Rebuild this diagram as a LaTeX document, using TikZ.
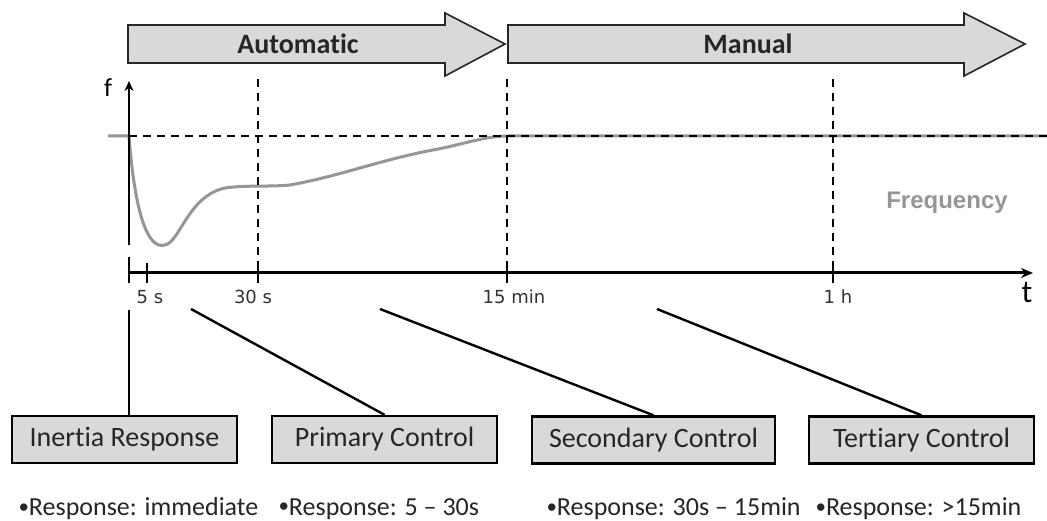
\documentclass[tikz,border=0pt]{standalone}
\usepackage{fontspec}
\setmainfont{Carlito}[Ligatures={TeX,NoCommon}]
\newfontfamily\axisfont{DejaVu Sans}
\newfontfamily\freqfont{Liberation Sans}
\usetikzlibrary{arrows.meta}
\definecolor{boxgray}{RGB}{217,217,217}
\definecolor{curvegray}{RGB}{150,150,150}
\definecolor{labelgray}{RGB}{50,50,50}
\newcommand{\smallbullet}{\raisebox{0.2ex}{\fontsize{21}{21}\selectfont\textbullet}}
\tikzset{
  ctrlbox/.style={draw, line width=2.4pt, fill=boxgray, minimum width=225pt,
    minimum height=47pt, inner sep=0pt, text=black!85,
    font=\fontsize{28}{30}\selectfont},
  phasearrow/.style={draw=black!85, line width=1.6pt, fill=boxgray},
  guide/.style={dash pattern=on 8pt off 6pt, line width=2pt},
  ticklabel/.style={text=labelgray, font=\axisfont\fontsize{18}{20}\selectfont},
  bullettext/.style={anchor=west, text=black!85, font=\fontsize{26}{30}\selectfont}
}
\begin{document}
\begin{tikzpicture}[x=1pt, y=-1pt]
        \useasboundingbox (0,0) rectangle (1047,521);
        \fill[white] (0,0) rectangle (1047,521);

        \draw[phasearrow] (128,25) -- (445,25) -- (445,13) -- (505,44) -- (445,76) -- (445,63) -- (128,63) -- cycle;
        \draw[phasearrow] (508,25) -- (964,25) -- (964,13) -- (1025,44) -- (964,76) -- (964,63) -- (508,63) -- cycle;
        \node[font=\bfseries\fontsize{28}{30}\selectfont, text=black!85] (auto) at (298,44) {Automatic};
        \node[font=\bfseries\fontsize{28}{30}\selectfont, text=black!85] (manual) at (748,44) {Manual};

        \draw[curvegray, line width=3pt, line join=round] (108,136) -- (129,136)
            .. controls (135,215) and (148,250) .. (165,245)
            .. controls (180,242) and (188,196) .. (225,188)
            .. controls (245,185) and (270,187) .. (290,185)
            .. controls (340,176) and (380,160) .. (433,150)
            .. controls (465,144) and (485,136) .. (508,136) -- (1047,136);
        \draw[guide] (129,136) -- (1047,136);
        \foreach \x in {258,507,833}
            \draw[guide] (\x,79) -- (\x,273);

        \draw[line width=3pt, -{Stealth[length=12pt,width=10pt]}] (129,273) -- (1033,273);
        \draw[line width=2.5pt, -{Stealth[length=10pt,width=9pt]}] (129,245) -- (129,81);
        \draw[line width=2.5pt] (129,257) -- (129,283);
        \foreach \x in {147,258,507,833}
            \draw[line width=2pt] (\x,263) -- (\x,283);

        \node[font=\fontsize{26}{28}\selectfont] (flabel) at (108,88) {f};
        \node[font=\fontsize{32}{34}\selectfont] (tlabel) at (1027,293) {t};
        \node[ticklabel] (t5s) at (150,297) {5 s};
        \node[ticklabel] (t30s) at (253,297) {30 s};
        \node[ticklabel] (t15min) at (514,297) {15 min};
        \node[ticklabel] (t1h) at (838,297) {1 h};
        \node[text=curvegray, font=\freqfont\bfseries\fontsize{24}{26}\selectfont] (freq) at (947,203) {Frequency};

        \node[ctrlbox] (inertia) at (124.5,439.5) {Inertia Response};
        \node[ctrlbox] (primary) at (384.5,439.5) {Primary Control};
        \node[ctrlbox, minimum width=243pt] (secondary) at (653.5,440) {Secondary Control};
        \node[ctrlbox] (tertiary) at (921.5,440) {Tertiary Control};

        \coordinate (inTop) at (129,310);
        \coordinate (prTop) at (191,309);
        \coordinate (seTop) at (380,309);
        \coordinate (teTop) at (657,309);
        \draw[line width=2.4pt] (inTop) -- (inTop |- inertia.north);
        \draw[line width=2.4pt] (prTop) -- (primary.north);
        \draw[line width=2.4pt] (seTop) -- (secondary.north);
        \draw[line width=2.4pt] (teTop) -- (tertiary.north);

        \node[bullettext] (inResp) at (15,509) {\smallbullet Response: immediate};
        \node[bullettext] (prResp) at (275,509) {\smallbullet Response: 5 – 30s};
        \node[bullettext] (seResp) at (543,509) {\smallbullet Response: 30s – 15min};
        \node[bullettext] (teResp) at (812,509) {\smallbullet Response: >15min};
    \end{tikzpicture}
\end{document}
